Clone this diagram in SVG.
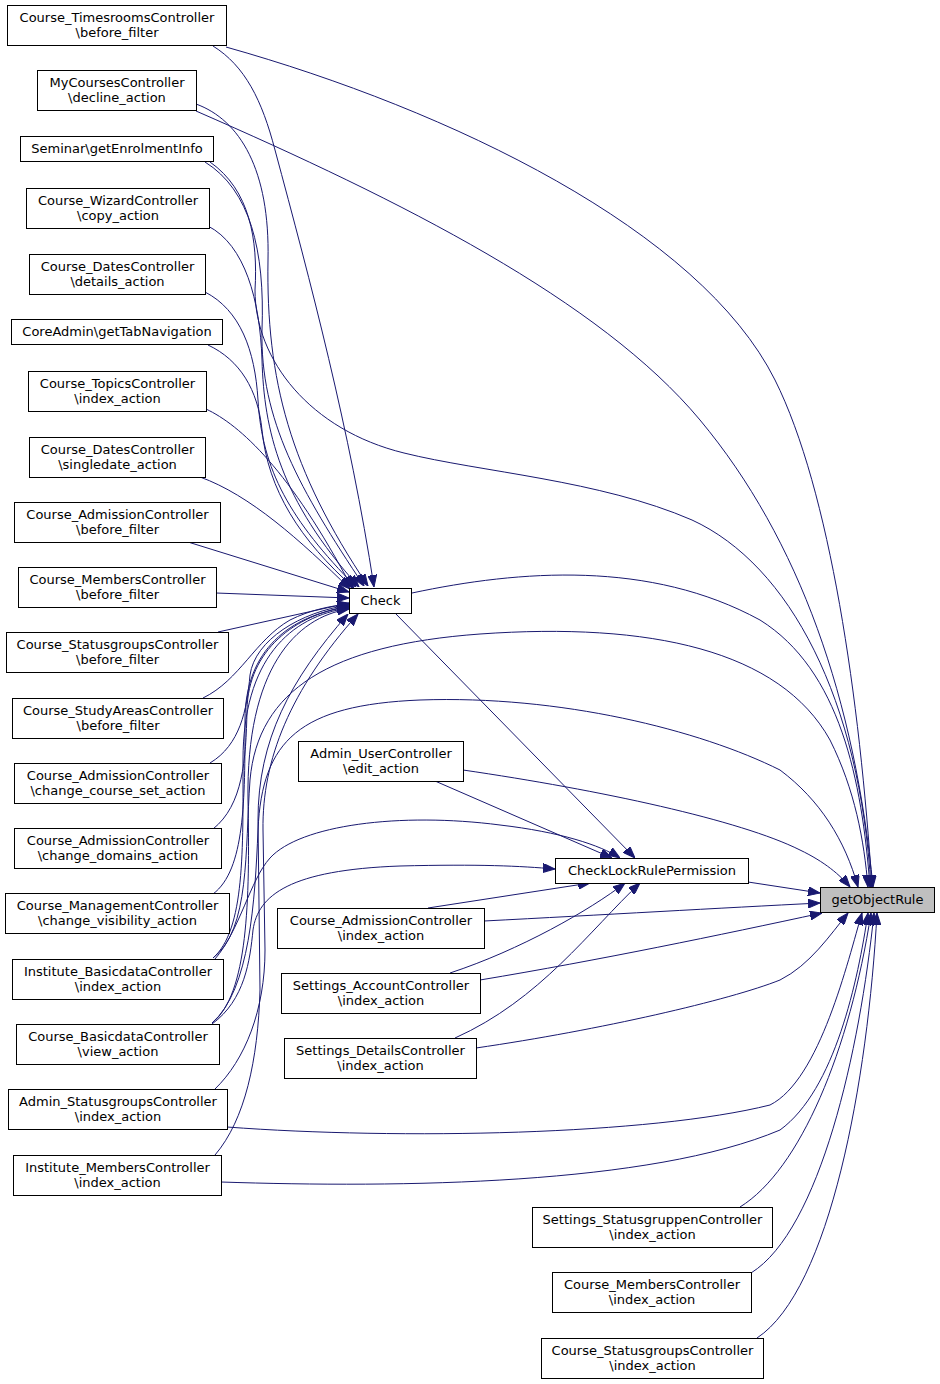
<svg xmlns="http://www.w3.org/2000/svg" width="940" height="1384" viewBox="0 0 940 1384">
<style>
.n rect{fill:#ffffff;stroke:#000000;stroke-width:1}
.root rect{fill:#bfbfbf;stroke:#000000;stroke-width:1}
text{font-family:"DejaVu Sans","Liberation Sans",sans-serif;font-size:13px;fill:#000000;text-anchor:middle}
.e path{fill:none;stroke:#191970;stroke-width:1;marker-end:url(#ah)}
</style>
<defs>
<marker id="ah" viewBox="0 0 12 9" refX="12" refY="4.5" markerWidth="12" markerHeight="9" markerUnits="userSpaceOnUse" orient="auto">
<path d="M0,0 L12,4.5 L0,9 z" fill="#191970" stroke="#191970" stroke-width="1"/>
</marker>
</defs>
<rect width="940" height="1384" fill="#ffffff"/>
<g id="edges" class="e">
<!-- to Check -->
<path d="M213,46 C 245,66 262,100 275,150 C 310,280 350,430 374,587"/>
<path d="M196,104 C 240,120 270,170 268,260 C 266,380 290,470 368,586"/>
<path d="M205,162 C 250,190 265,250 262,330 C 260,420 300,490 364,586"/>
<path d="M208,226 C 245,245 260,300 262,360 C 264,430 280,500 359,587"/>
<path d="M205,292 C 240,310 255,350 258,400 C 262,470 290,520 356,587"/>
<path d="M208,345 C 240,360 258,390 262,430 C 268,490 300,540 354,588"/>
<path d="M206,409 C 240,425 290,470 352,588"/>
<path d="M200,477 C 250,495 300,540 350,589"/>
<path d="M188,542 L 349,592"/>
<path d="M216,593 L 349,598"/>
<path d="M218,632 L 349,603"/>
<path d="M203,698 C 240,680 255,640 290,620 C 310,610 330,606 349,604"/>
<path d="M210,763 C 240,745 247,710 250,675 C 255,640 300,612 349,605"/>
<path d="M213,829 C 243,805 246,760 247,710 C 248,650 295,615 349,606"/>
<path d="M213,894 C 245,870 245,800 245,720 C 245,650 290,615 349,607"/>
<path d="M213,958 C 245,930 243,850 243,760 C 243,660 290,616 349,608"/>
<path d="M212,1023 C 248,995 250,900 248,800 C 246,670 295,617 349,609"/>
<path d="M215,1089 C 245,1060 265,1010 265,950 L 263,830 C 262,760 290,690 358,614"/>
<path d="M215,1155 C 245,1120 258,1060 260,990 L 258,820 C 258,740 290,680 348,614"/>
<!-- to CheckLockRulePermission -->
<path d="M395,613 L 635,858"/>
<path d="M435,781 L 612,858"/>
<path d="M215,959 C 240,930 250,880 270,858 C 300,825 400,812 500,825 C 560,832 600,845 620,858"/>
<path d="M212,1024 C 245,1000 250,960 253,930 C 258,895 290,870 400,866 C 480,864 520,866 555,869"/>
<path d="M428,908 L 590,883"/>
<path d="M450,973 C 520,950 590,910 625,883"/>
<path d="M455,1038 C 540,1000 590,930 640,883"/>
<!-- to getObjectRule -->
<path d="M748,882 L 820,893"/>
<path d="M226,47 C 450,110 700,230 775,380 C 830,490 860,700 872,887"/>
<path d="M196,111 C 400,200 600,300 700,420 C 800,540 855,700 873,887"/>
<path d="M210,162 C 250,190 258,240 255,290 C 255,360 310,430 404,453 C 480,472 600,480 692,520 C 790,565 860,700 871,887"/>
<path d="M412,593 C 520,570 650,560 760,620 C 840,670 862,780 870,887"/>
<path d="M213,958 C 250,930 245,850 250,780 C 258,690 330,645 480,634 C 650,622 780,650 830,740 C 855,790 864,840 868,887"/>
<path d="M212,1023 C 250,990 255,900 258,830 C 262,740 300,705 420,700 C 560,695 700,730 780,770 C 820,800 845,840 858,887"/>
<path d="M463,770 C 600,790 740,820 800,850 C 825,862 840,875 850,887"/>
<path d="M484,921 C 600,915 720,908 820,903"/>
<path d="M480,980 C 600,960 720,935 822,913"/>
<path d="M476,1048 C 600,1030 730,1000 780,980 C 810,965 830,935 848,913"/>
<path d="M227,1127 C 400,1140 650,1135 770,1105 C 820,1080 848,960 862,913"/>
<path d="M221,1182 C 400,1188 650,1185 780,1130 C 835,1090 858,980 868,913"/>
<path d="M740,1207 C 800,1170 850,1050 871,913"/>
<path d="M751,1273 C 820,1230 860,1050 874,913"/>
<path d="M757,1338 C 830,1290 868,1080 877,913"/>
</g>
<g id="n1" class="n"><rect x="7.5" y="5.5" width="219" height="40"/><text x="117" y="21.5">Course_TimesroomsController</text><text x="117" y="36.5">\before_filter</text></g>
<g id="n2" class="n"><rect x="37.5" y="70.5" width="159" height="40"/><text x="117" y="86.5">MyCoursesController</text><text x="117" y="101.5">\decline_action</text></g>
<g id="n3" class="n"><rect x="20.5" y="136.5" width="193" height="25"/><text x="117" y="152.5">Seminar\getEnrolmentInfo</text></g>
<g id="n4" class="n"><rect x="26.5" y="188.5" width="183" height="40"/><text x="118" y="204.5">Course_WizardController</text><text x="118" y="219.5">\copy_action</text></g>
<g id="n5" class="n"><rect x="29.5" y="254.5" width="176" height="40"/><text x="117.5" y="270.5">Course_DatesController</text><text x="117.5" y="285.5">\details_action</text></g>
<g id="n6" class="n"><rect x="11.5" y="319.5" width="211" height="25"/><text x="117" y="335.5">CoreAdmin\getTabNavigation</text></g>
<g id="n7" class="n"><rect x="28.5" y="371.5" width="178" height="40"/><text x="117.5" y="387.5">Course_TopicsController</text><text x="117.5" y="402.5">\index_action</text></g>
<g id="n8" class="n"><rect x="29.5" y="437.5" width="176" height="40"/><text x="117.5" y="453.5">Course_DatesController</text><text x="117.5" y="468.5">\singledate_action</text></g>
<g id="n9" class="n"><rect x="14.5" y="502.5" width="206" height="40"/><text x="117.5" y="518.5">Course_AdmissionController</text><text x="117.5" y="533.5">\before_filter</text></g>
<g id="n10" class="n"><rect x="18.5" y="567.5" width="198" height="40"/><text x="117.5" y="583.5">Course_MembersController</text><text x="117.5" y="598.5">\before_filter</text></g>
<g id="n11" class="n"><rect x="6.5" y="632.5" width="222" height="40"/><text x="117.5" y="648.5">Course_StatusgroupsController</text><text x="117.5" y="663.5">\before_filter</text></g>
<g id="n12" class="n"><rect x="12.5" y="698.5" width="211" height="40"/><text x="118" y="714.5">Course_StudyAreasController</text><text x="118" y="729.5">\before_filter</text></g>
<g id="n13" class="n"><rect x="14.5" y="763.5" width="207" height="40"/><text x="118" y="779.5">Course_AdmissionController</text><text x="118" y="794.5">\change_course_set_action</text></g>
<g id="n14" class="n"><rect x="14.5" y="828.5" width="207" height="40"/><text x="118" y="844.5">Course_AdmissionController</text><text x="118" y="859.5">\change_domains_action</text></g>
<g id="n15" class="n"><rect x="5.5" y="893.5" width="224" height="40"/><text x="117.5" y="909.5">Course_ManagementController</text><text x="117.5" y="924.5">\change_visibility_action</text></g>
<g id="n16" class="n"><rect x="12.5" y="959.5" width="211" height="40"/><text x="118" y="975.5">Institute_BasicdataController</text><text x="118" y="990.5">\index_action</text></g>
<g id="n17" class="n"><rect x="16.5" y="1024.5" width="203" height="40"/><text x="118" y="1040.5">Course_BasicdataController</text><text x="118" y="1055.5">\view_action</text></g>
<g id="n18" class="n"><rect x="8.5" y="1089.5" width="219" height="40"/><text x="118" y="1105.5">Admin_StatusgroupsController</text><text x="118" y="1120.5">\index_action</text></g>
<g id="n19" class="n"><rect x="13.5" y="1155.5" width="208" height="40"/><text x="117.5" y="1171.5">Institute_MembersController</text><text x="117.5" y="1186.5">\index_action</text></g>
<g id="check" class="n"><rect x="349.5" y="588.5" width="62" height="25"/><text x="380.5" y="604.5">Check</text></g>
<g id="adminuser" class="n"><rect x="298.5" y="741.5" width="165" height="40"/><text x="381" y="757.5">Admin_UserController</text><text x="381" y="772.5">\edit_action</text></g>
<g id="clrp" class="n"><rect x="555.5" y="858.5" width="193" height="25"/><text x="652" y="874.5">CheckLockRulePermission</text></g>
<g id="admissionindex" class="n"><rect x="277.5" y="908.5" width="207" height="40"/><text x="381" y="924.5">Course_AdmissionController</text><text x="381" y="939.5">\index_action</text></g>
<g id="settingsaccount" class="n"><rect x="281.5" y="973.5" width="199" height="40"/><text x="381" y="989.5">Settings_AccountController</text><text x="381" y="1004.5">\index_action</text></g>
<g id="settingsdetails" class="n"><rect x="284.5" y="1038.5" width="192" height="40"/><text x="380.5" y="1054.5">Settings_DetailsController</text><text x="380.5" y="1069.5">\index_action</text></g>
<g id="getobjectrule" class="root"><rect x="820.5" y="887.5" width="114" height="25"/><text x="877.5" y="903.5">getObjectRule</text></g>
<g id="statusgruppen" class="n"><rect x="532.5" y="1207.5" width="240" height="40"/><text x="652.5" y="1223.5">Settings_StatusgruppenController</text><text x="652.5" y="1238.5">\index_action</text></g>
<g id="membersindex" class="n"><rect x="552.5" y="1272.5" width="199" height="40"/><text x="652" y="1288.5">Course_MembersController</text><text x="652" y="1303.5">\index_action</text></g>
<g id="statusgroupsindex" class="n"><rect x="541.5" y="1338.5" width="222" height="40"/><text x="652.5" y="1354.5">Course_StatusgroupsController</text><text x="652.5" y="1369.5">\index_action</text></g>
</svg>
